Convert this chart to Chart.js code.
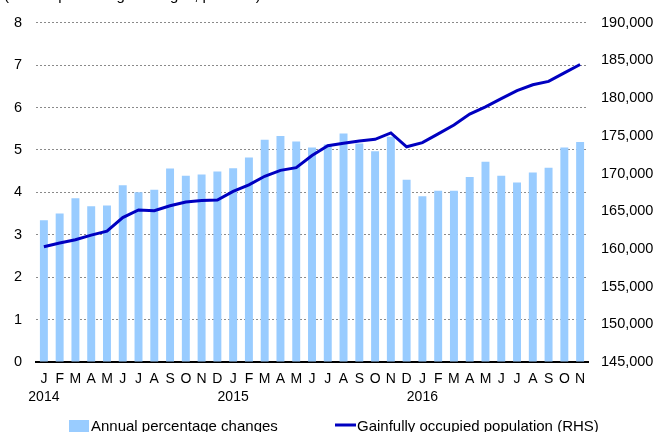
<!DOCTYPE html>
<html>
<head>
<meta charset="utf-8">
<script src="https://cdn.jsdelivr.net/npm/chart.js@4.4.0/dist/chart.umd.min.js"></script>
<style>
  html, body { margin: 0; padding: 0; background: #fff; overflow: hidden; }
  #wrap { position: relative; width: 656px; height: 432px; }
</style>
</head>
<body>
<div id="wrap"><canvas id="myChart" width="656" height="432"></canvas></div>
<script>
// months Jan 2014 .. Nov 2016
const monthLabels = ["J","F","M","A","M","J","J","A","S","O","N","D",
                     "J","F","M","A","M","J","J","A","S","O","N","D",
                     "J","F","M","A","M","J","J","A","S","O","N"];
const yearLabels = {0: "2014", 12: "2015", 24: "2016"};

// annual percentage changes (left axis)
const annualChange = [3.34, 3.50, 3.86, 3.67, 3.69, 4.17, 4.00, 4.06, 4.56, 4.39, 4.42, 4.49,
                      4.57, 4.82, 5.24, 5.33, 5.20, 5.06, 5.13, 5.39, 5.15, 4.97, 5.31, 4.30,
                      3.91, 4.04, 4.04, 4.36, 4.72, 4.39, 4.23, 4.47, 4.58, 5.06, 5.19];

// gainfully occupied population, persons (right axis)
const occupied = [160290, 160780, 161210, 161830, 162360, 164150, 165160, 165070, 165720, 166210, 166430, 166470,
                  167620, 168490, 169630, 170420, 170770, 172390, 173680, 174010, 174320, 174530, 175380, 173540,
                  174100, 175250, 176430, 177880, 178840, 179930, 180980, 181770, 182210, 183350, 184450];

const leftTicks = {min: 0, max: 8, step: 1};
const rightTicks = {min: 145000, max: 190000, step: 5000};

const barColor = "#99CCFF";
const lineColor = "#0000C0";
const fontFamily = "'Liberation Sans', Arial, sans-serif";

const labels = monthLabels.map((m, i) => yearLabels[i] ? [m, yearLabels[i]] : m);

// title (cut off at the top) and legend (cut off at the bottom)
const extraText = {
  id: "extraText",
  afterDraw(chart) {
    const c = chart.ctx;
    c.save();
    c.fillStyle = "#000";
    c.font = "15px " + fontFamily;
    c.textBaseline = "alphabetic";
    c.textAlign = "left";
    c.fillText("(annual percentage changes, persons)", 4, 0);

    c.fillStyle = barColor;
    c.fillRect(69, 420, 20, 12);
    c.fillStyle = "#000";
    c.fillText("Annual percentage changes", 91, 431);

    c.strokeStyle = lineColor;
    c.lineWidth = 3;
    c.beginPath();
    c.moveTo(335, 425);
    c.lineTo(356, 425);
    c.stroke();
    c.fillText("Gainfully occupied population (RHS)", 357, 431);
    c.restore();
  }
};

const ctx = document.getElementById("myChart").getContext("2d");

const myChart = new Chart(ctx, {
  type: "bar",
  data: {
    labels: labels,
    datasets: [
      {
        type: "line",
        label: "Gainfully occupied population (RHS)",
        data: occupied,
        yAxisID: "y1",
        borderColor: lineColor,
        borderWidth: 3,
        pointRadius: 0,
        tension: 0,
        order: 0,
      },
      {
        label: "Annual percentage changes",
        data: annualChange,
        yAxisID: "y",
        backgroundColor: barColor,
        borderWidth: 0,
        barPercentage: 0.9,
        categoryPercentage: 0.56,
        order: 1,
      },
    ],
  },
  options: {
    responsive: false,
    animation: false,
    layout: { padding: { top: 20, left: 0, right: 0, bottom: 0 } },
    plugins: {
      legend: { display: false },
      title: { display: false },
      tooltip: { enabled: false },
    },
    scales: {
      x: {
        grid: { display: false, drawTicks: false },
        border: { display: true, color: "#000", width: 2 },
        ticks: {
          autoSkip: false,
          maxRotation: 0,
          color: "#000",
          padding: 8,
          font: { family: fontFamily, size: 14, lineHeight: 1.3 },
        },
        afterFit(scale) { scale.height = 70; },
      },
      y: {
        position: "left",
        min: leftTicks.min,
        max: leftTicks.max,
        ticks: {
          stepSize: leftTicks.step,
          color: "#000",
          padding: 14,
          font: { family: fontFamily, size: 14.5 },
        },
        grid: {
          drawTicks: false,
          color: "#8a8a8a",
          lineWidth: 1,
        },
        border: { display: false, dash: [2, 2] },
        afterFit(scale) { scale.width = 36; },
      },
      y1: {
        position: "right",
        min: rightTicks.min,
        max: rightTicks.max,
        ticks: {
          stepSize: rightTicks.step,
          color: "#000",
          padding: 13,
          font: { family: fontFamily, size: 14.5 },
          callback: (v) => v.toLocaleString("en-US"),
        },
        grid: { display: false, drawTicks: false },
        border: { display: false },
        afterFit(scale) { scale.width = 68; },
      },
    },
  },
  plugins: [extraText],
});
</script>
</body>
</html>
